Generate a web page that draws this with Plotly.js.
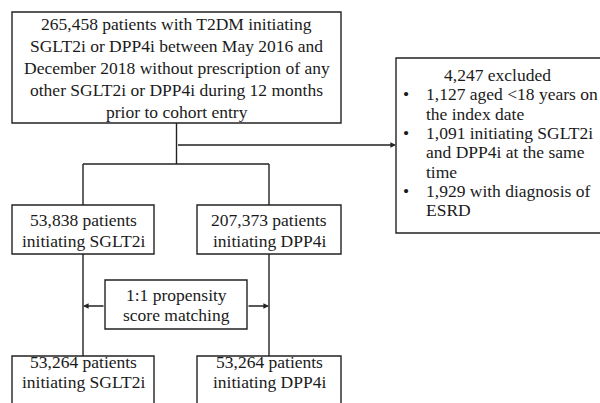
<!DOCTYPE html>
<html>
<head>
<meta charset="utf-8">
<script src="https://cdn.plot.ly/plotly-3.0.1.min.js"></script>
<style>html,body{margin:0;padding:0;background:#fff;}#chart{width:600px;height:403px;}</style>
</head>
<body>
<div id="chart"></div>
<script>
// ---- content ----
const topLines = ["265,458 patients with T2DM initiating", "SGLT2i or DPP4i between May 2016 and", "December 2018 without prescription of any", "other SGLT2i or DPP4i during 12 months", "prior to cohort entry"];
const excludedHeader = "4,247 excluded";
const excludedItems = [
  ["1,127 aged <18 years on", "the index date"],
  ["1,091 initiating SGLT2i", "and DPP4i at the same", "time"],
  ["1,929 with diagnosis of", "ESRD"]
];
const cohortSGLT2 = ["53,838 patients", "initiating SGLT2i"];
const cohortDPP4 = ["207,373 patients", "initiating DPP4i"];
const matchingLines = ["1:1 propensity", "score matching"];
const matchedSGLT2 = ["53,264 patients", "initiating SGLT2i"];
const matchedDPP4 = ["53,264 patients", "initiating DPP4i"];

// ---- layout helpers ----
const FONT = {family: "Liberation Serif, Times New Roman, serif", size: 17.5, color: "#1a1a1a"};
const LINE = {color: "#222", width: 1.4};
const shapes = [];
const annotations = [];

function box(x0, y0, x1, y1) {
  shapes.push({type: "rect", xref: "x", yref: "y", x0, y0, x1, y1, line: LINE, fillcolor: "rgba(0,0,0,0)"});
}
function seg(x0, y0, x1, y1) {
  shapes.push({type: "line", xref: "x", yref: "y", x0, y0, x1, y1, line: LINE});
}
function arrow(xTail, yTail, xTip, yTip) {
  annotations.push({x: xTip, y: yTip, ax: xTail, ay: yTail, xref: "x", yref: "y", axref: "x", ayref: "y",
    text: "", showarrow: true, arrowhead: 2, arrowsize: 0.8, arrowwidth: 1.4, arrowcolor: "#222", standoff: 0});
}
function textLine(t, x, y, anchor) {
  annotations.push({x, y, xref: "x", yref: "y", text: t, showarrow: false, xanchor: anchor || "center",
    yanchor: "middle", font: FONT});
}
function centeredLines(lines, cx, cy, spacing) {
  const n = lines.length;
  lines.forEach((t, i) => textLine(t, cx, cy + (i - (n - 1) / 2) * spacing));
}

// top box
box(12, 12, 341, 123);
centeredLines(topLines, 176.5, 68, 21.8);

// exclusion box
box(396, 58, 640, 233);
textLine(excludedHeader, 497, 75);
let row = 1;
const excSpacing = 19.3;
excludedItems.forEach(item => {
  item.forEach((t, j) => {
    const y = 75 + row * excSpacing;
    if (j === 0) textLine("•", 406, y);
    textLine(t, 424, y, "left");
    row++;
  });
});

// connectors from top
seg(176.5, 123, 176.5, 164);
arrow(176.5, 145, 396, 145);
seg(83, 164, 269, 164);
seg(83, 164, 83, 205);
seg(269, 164, 269, 205);

// second row
box(12, 205, 154, 254);
centeredLines(cohortSGLT2, 83, 230, 21);
box(197, 205, 341, 254);
centeredLines(cohortDPP4, 269, 230, 21);

// verticals to matched
seg(83, 254, 83, 356);
seg(269, 254, 269, 356);

// matching box
box(105, 280, 247, 329);
centeredLines(matchingLines, 176, 305, 20);
arrow(105, 306, 83, 306);
arrow(247, 306, 269, 306);

// bottom row
box(12, 356, 154, 420);
centeredLines(matchedSGLT2, 83, 372, 19.5);
box(197, 356, 341, 420);
centeredLines(matchedDPP4, 269, 372, 19.5);

const layout = {
  width: 600, height: 403,
  margin: {l: 0, r: 0, t: 0, b: 0},
  paper_bgcolor: "#fff", plot_bgcolor: "#fff",
  xaxis: {range: [0, 600], visible: false, fixedrange: true},
  yaxis: {range: [403, 0], visible: false, fixedrange: true},
  showlegend: false,
  shapes, annotations
};
Plotly.newPlot("chart", [], layout, {staticPlot: true, displayModeBar: false});
</script>
</body>
</html>
